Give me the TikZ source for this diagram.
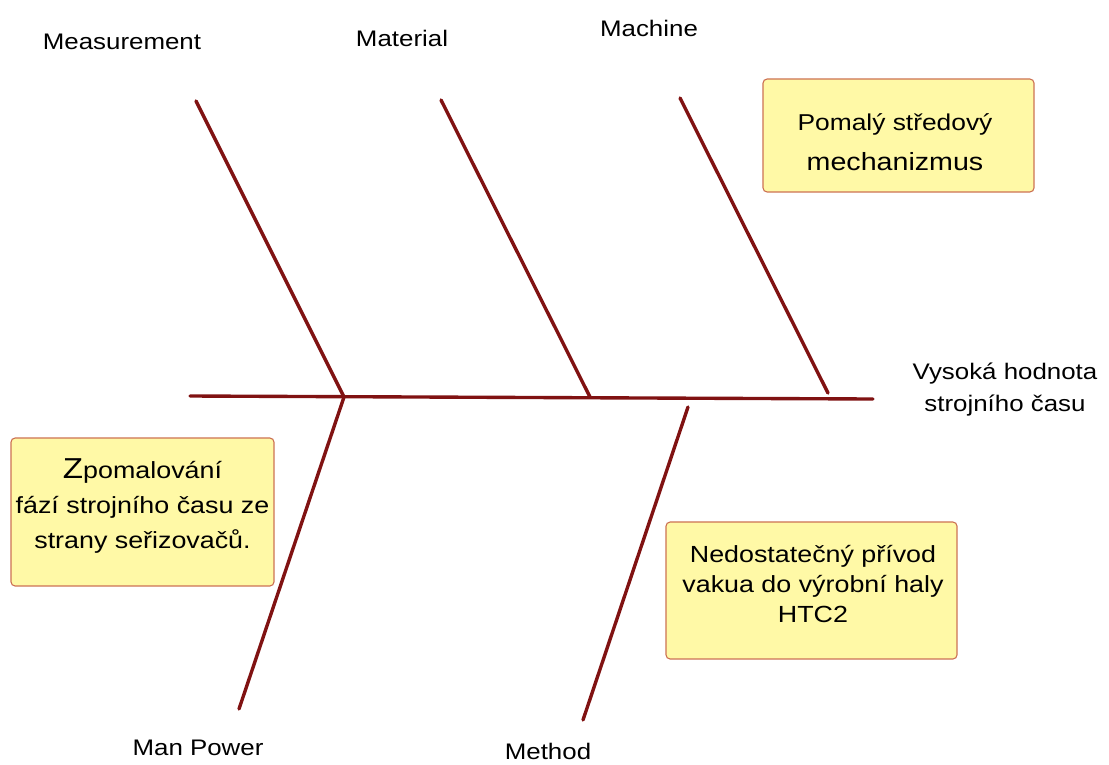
\documentclass[tikz,border=0pt]{standalone}
\usepackage{fontspec}
\setmainfont[FakeStretch=1.15]{Liberation Sans}
\usetikzlibrary{positioning}
\definecolor{fishred}{RGB}{128,18,18}
\definecolor{notefill}{RGB}{255,249,166}
\definecolor{noteline}{RGB}{205,115,85}
\tikzset{
  bone/.style={line width=2.4pt, fishred, line cap=round},
  note/.style={draw=noteline, fill=notefill, rounded corners=3pt, line width=0.8pt,
    align=center, inner sep=0pt},
  cat/.style={font=\fontsize{16}{21}\selectfont}
}

\begin{document}
\begin{tikzpicture}[x=0.025cm, y=-0.025cm]
  \useasboundingbox (0,0) rectangle (1109,764);

  % spine and bones
  \coordinate (tail) at (190,396);
  \coordinate (head) at (873,399);
  \coordinate (measJ) at (344,397);
  \coordinate (matJ) at (590,397);
  \coordinate (machJ) at (828,393);
  \coordinate (measT) at (196,101);
  \coordinate (matT) at (441,100);
  \coordinate (machT) at (680,98);
  \coordinate (manT) at (239,709);
  \coordinate (methS) at (688,407);
  \coordinate (methT) at (583,720);

  \draw[bone] (tail) -- (head);
  \draw[bone] (measT) -- (measJ) -- (manT);
  \draw[bone] (matT) -- (matJ);
  \draw[bone] (machT) -- (machJ);
  \draw[bone] (methS) -- (methT);

  % categories
  \node[cat] (meas) at (122,42) {Measurement};
  \node[cat] (mat) at (402,38) {Material};
  \node[cat] (mach) at (649,28) {Machine};
  \node[cat] (man) at (198,748) {Man Power};
  \node[cat, inner sep=1pt] (meth) at (548,751) {Method};
  \node[cat, align=center, font=\fontsize{16}{22.7}\selectfont] (effect) at (1005,390)
    {Vysoká hodnota\\ strojního času};

  % causes
  \node[note, minimum width=6.775cm, minimum height=2.825cm] (slow) at (898.5,135.5) {};
  \node[align=center, font=\fontsize{16.3}{28}\selectfont] (slowtxt) at (895,142)
    {Pomalý středový\\ {\fontsize{17.7}{28}\selectfont mechanizmus}};

  \node[note, minimum width=6.575cm, minimum height=3.7cm] (setters) at (142.5,512) {};
  \node[align=center, font=\fontsize{16.6}{24.8}\selectfont] (settxt) at (142.5,506)
    {{\fontsize{20.5}{24.8}\selectfont Z}pomalování\\ fází strojního času ze\\ strany seřizovačů.};

  \node[note, minimum width=7.275cm, minimum height=3.425cm] (vacuum) at (811.5,590.5) {};
  \node[align=center, font=\fontsize{16.6}{21}\selectfont] (vactxt) at (813,584)
    {Nedostatečný přívod\\ vakua do výrobní haly\\ HTC2};
\end{tikzpicture}
\end{document}
